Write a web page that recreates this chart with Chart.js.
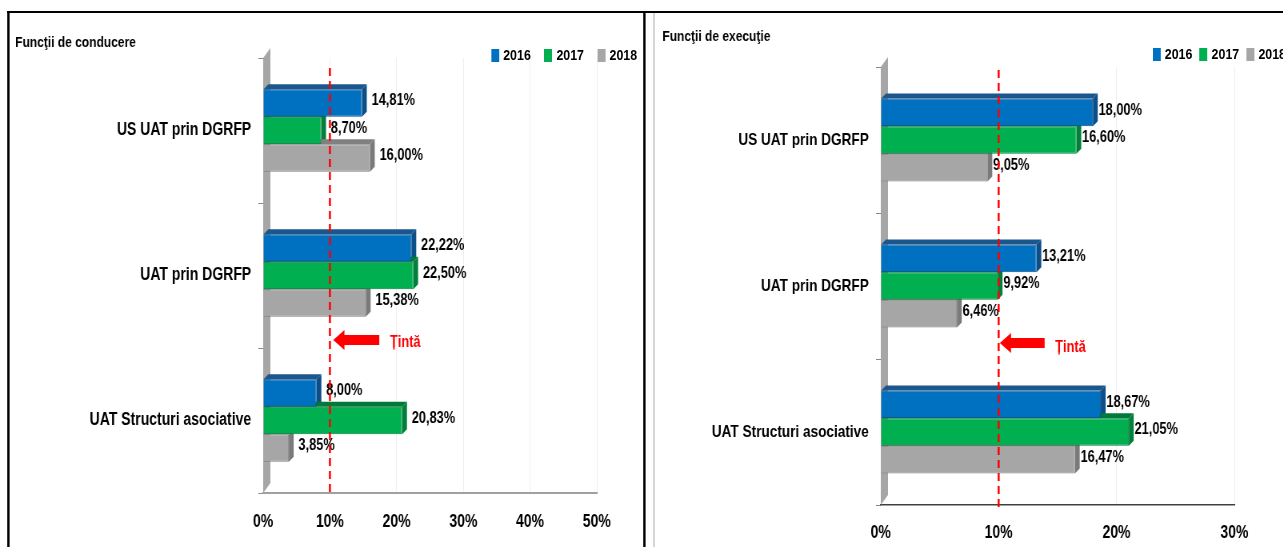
<!DOCTYPE html>
<html>
<head>
<meta charset="utf-8">
<script src="https://cdn.jsdelivr.net/npm/chart.js@4.4.0/dist/chart.umd.min.js"></script>
<style>
  body { margin:0; width:1283px; height:547px; overflow:hidden; background:#fff; position:relative;
         font-family:"Liberation Sans", Arial, sans-serif; }
  /* the whole sheet is drawn 1.25x wide and squeezed back, like the original narrow-looking export */
  #sheet { position:absolute; left:0; top:0; width:1604px; height:547px; transform:scaleX(0.8); transform-origin:0 0; }
  .line { position:absolute; }
  .chart { position:absolute; }
  .legend { position:absolute; display:flex; align-items:center; font-weight:bold; font-size:15.5px; white-space:nowrap; color:#000; }
  .legend .item { display:flex; align-items:center; }
  .legend .box { display:inline-block; width:10px; height:13px; margin-right:5px; }
</style>
</head>
<body>
<div id="sheet">
  <div class="line" style="left:9px;top:11px;width:1595px;height:2px;background:#000"></div>
  <div class="line" style="left:9px;top:11px;width:2.5px;height:536px;background:#000"></div>
  <div class="line" style="left:804px;top:11px;width:2.5px;height:536px;background:#000"></div>
  <div class="line" style="left:817px;top:13px;width:1.25px;height:534px;background:#999"></div>

  <canvas id="conducere" class="chart" width="787" height="538" style="left:19px;top:14px"></canvas>
  <canvas id="executie" class="chart" width="776" height="548" style="left:828px;top:14px"></canvas>
  <div id="legendConducere" class="legend" style="left:614px;top:46px"></div>
  <div id="legendExecutie" class="legend" style="left:1441px;top:45px"></div>
</div>

<script>
const categories = ['US UAT prin DGRFP', 'UAT prin DGRFP', 'UAT Structuri asociative'];
const years = ['2016', '2017', '2018'];

const conducere2016 = [14.81, 22.22, 8.00];
const conducere2017 = [8.70, 22.50, 20.83];
const conducere2018 = [16.00, 15.38, 3.85];

const executie2016 = [18.00, 13.21, 18.67];
const executie2017 = [16.60, 9.92, 21.05];
const executie2018 = [9.05, 6.46, 16.47];

const targetValue = 10;
const targetLabel = 'Țintă';

const FONT = '"Liberation Sans", Arial, sans-serif';
const depth = {x: 6, y: 5};

const colors = [
    {front: '#0070C0', top: '#1B568C', side: '#0B4F8A', border: '#0A4F8C'},
    {front: '#00B050', top: '#007A38', side: '#00803A', border: '#00803A'},
    {front: '#A6A6A6', top: '#808080', side: '#7A7A7A', border: '#7F7F7F'}
];

// side wall + top/right faces of the bars, drawn under the bars
const bar3d = {
    id: 'bar3d',
    beforeDatasetsDraw(chart){
        const {ctx, chartArea} = chart;
        const L = chart.scales.x.getPixelForValue(0);
        ctx.save();
        ctx.fillStyle = '#A6A6A6';
        ctx.beginPath();
        ctx.moveTo(L, chartArea.bottom);
        ctx.lineTo(L, chartArea.top);
        ctx.lineTo(L + 9, chartArea.top - 10);
        ctx.lineTo(L + 9, chartArea.bottom - 10);
        ctx.closePath();
        ctx.fill();

        chart.data.datasets.forEach((ds, i) => {
            const c = colors[i];
            chart.getDatasetMeta(i).data.forEach(bar => {
                const {x, y, base, height} = bar.getProps(['x', 'y', 'base', 'height'], true);
                const top = y - height / 2, bottom = y + height / 2;
                ctx.fillStyle = c.top;
                ctx.beginPath();
                ctx.moveTo(base, top);
                ctx.lineTo(base + depth.x, top - depth.y);
                ctx.lineTo(x + depth.x, top - depth.y);
                ctx.lineTo(x, top);
                ctx.closePath();
                ctx.fill();
                ctx.fillStyle = c.side;
                ctx.beginPath();
                ctx.moveTo(x, top);
                ctx.lineTo(x + depth.x, top - depth.y);
                ctx.lineTo(x + depth.x, bottom - depth.y);
                ctx.lineTo(x, bottom);
                ctx.closePath();
                ctx.fill();
            });
        });
        ctx.restore();
    }
};

const valueLabels = {
    id: 'valueLabels',
    afterDatasetsDraw(chart, args, o){
        const {ctx} = chart;
        ctx.save();
        ctx.font = 'bold 16px ' + FONT;
        ctx.fillStyle = '#000';
        ctx.textBaseline = 'middle';
        chart.data.datasets.forEach((ds, i) => {
            chart.getDatasetMeta(i).data.forEach((bar, j) => {
                const txt = ds.data[j].toFixed(2).replace('.', ',') + '%';
                ctx.fillText(txt, bar.x + depth.x + o.gap, bar.y - 2);
            });
        });
        ctx.restore();
    }
};

const target = {
    id: 'target',
    afterDraw(chart, args, o){
        const {ctx, chartArea} = chart;
        const xs = chart.scales.x, ys = chart.scales.y;
        const xv = xs.getPixelForValue(o.value);
        ctx.save();
        ctx.strokeStyle = '#FF0000';
        ctx.lineWidth = 2.5;
        ctx.setLineDash([8, 5]);
        ctx.beginPath();
        ctx.moveTo(xv, chartArea.top + o.lineTop);
        ctx.lineTo(xv, chartArea.bottom + 4);
        ctx.stroke();

        const ay = ys.getPixelForValue(o.row);
        const tip = xs.getPixelForValue(o.arrowFrom);
        const tail = xs.getPixelForValue(o.arrowTo);
        ctx.setLineDash([]);
        ctx.fillStyle = '#FF0000';
        ctx.beginPath();
        ctx.moveTo(tip, ay);
        ctx.lineTo(tip + 14, ay - 10);
        ctx.lineTo(tip + 14, ay - 5);
        ctx.lineTo(tail, ay - 5);
        ctx.lineTo(tail, ay + 5);
        ctx.lineTo(tip + 14, ay + 5);
        ctx.lineTo(tip + 14, ay + 10);
        ctx.closePath();
        ctx.fill();

        ctx.font = 'bold 16px ' + FONT;
        ctx.textBaseline = 'middle';
        ctx.fillText(o.label, xs.getPixelForValue(o.labelAt), ys.getPixelForValue(o.labelRow));
        ctx.restore();
    }
};

const htmlLegend = {
    id: 'htmlLegend',
    afterUpdate(chart, args, o){
        const box = document.getElementById(o.containerID);
        box.innerHTML = '';
        chart.data.datasets.forEach(ds => {
            const item = document.createElement('div');
            item.className = 'item';
            item.style.marginRight = o.gap + 'px';
            const sw = document.createElement('span');
            sw.className = 'box';
            sw.style.background = ds.backgroundColor;
            const t = document.createElement('span');
            t.textContent = ds.label;
            item.append(sw, t);
            box.append(item);
        });
    }
};

function makeChart(id, title, series, s){
    const datasets = series.map((values, i) => ({
        label: years[i],
        data: values,
        backgroundColor: colors[i].front,
        borderColor: colors[i].border,
        borderWidth: 1,
        categoryPercentage: 0.57,
        barPercentage: 1
    }));

    return new Chart(document.getElementById(id), {
        type: 'bar',
        data: {labels: categories, datasets: datasets},
        plugins: [bar3d, valueLabels, target, htmlLegend],
        options: {
            indexAxis: 'y',
            responsive: false,
            animation: false,
            layout: {padding: s.padding},
            scales: {
                x: {
                    min: 0, max: s.max,
                    ticks: {stepSize: 10, padding: s.tickPad, color: '#000',
                            font: {family: FONT, size: 17.5, weight: 'bold'},
                            callback: v => v + '%'},
                    grid: {color: '#EEEEEE', drawTicks: false},
                    border: {color: s.axisColor, width: s.axisWidth}
                },
                y: {
                    afterFit: scale => { scale.width = s.yWidth; },
                    ticks: {padding: 9, color: '#000', font: {family: FONT, size: s.catSize, weight: 'bold'}},
                    grid: {drawOnChartArea: false, tickLength: 6, color: '#888'},
                    border: {display: false}
                }
            },
            plugins: {
                legend: {display: false},
                tooltip: {enabled: false},
                title: {display: true, text: title, align: 'start', color: '#000',
                        font: {family: FONT, size: 15, weight: 'bold'}, padding: s.titlePad},
                htmlLegend: {containerID: s.legend, gap: s.legendGap},
                valueLabels: {gap: s.labelGap},
                target: Object.assign({value: targetValue, label: targetLabel}, s.target)
            }
        }
    });
}

makeChart('conducere', 'Funcţii de conducere', [conducere2016, conducere2017, conducere2018], {
    max: 50, yWidth: 310, catSize: 17.5, tickPad: 19,
    padding: {left: 0, right: 60, top: 0, bottom: 0},
    titlePad: {top: 20, bottom: 6},
    axisColor: '#A0A0A0', axisWidth: 2,
    legend: 'legendConducere', legendGap: 17, labelGap: 6,
    target: {lineTop: 10, row: 1.445, labelRow: 1.466, arrowFrom: 10.5, arrowTo: 17.4, labelAt: 19.0}
});

makeChart('executie', 'Funcţii de execuţie', [executie2016, executie2017, executie2018], {
    max: 30, yWidth: 273, catSize: 17, tickPad: 18,
    padding: {left: 0, right: 61, top: 0, bottom: 0},
    titlePad: {top: 14, bottom: 21},
    axisColor: '#404040', axisWidth: 1.5,
    legend: 'legendExecutie', legendGap: 9, labelGap: 1,
    target: {lineTop: 3, row: 1.39, labelRow: 1.42, arrowFrom: 10.1, arrowTo: 13.9, labelAt: 14.8}
});
</script>
</body>
</html>
